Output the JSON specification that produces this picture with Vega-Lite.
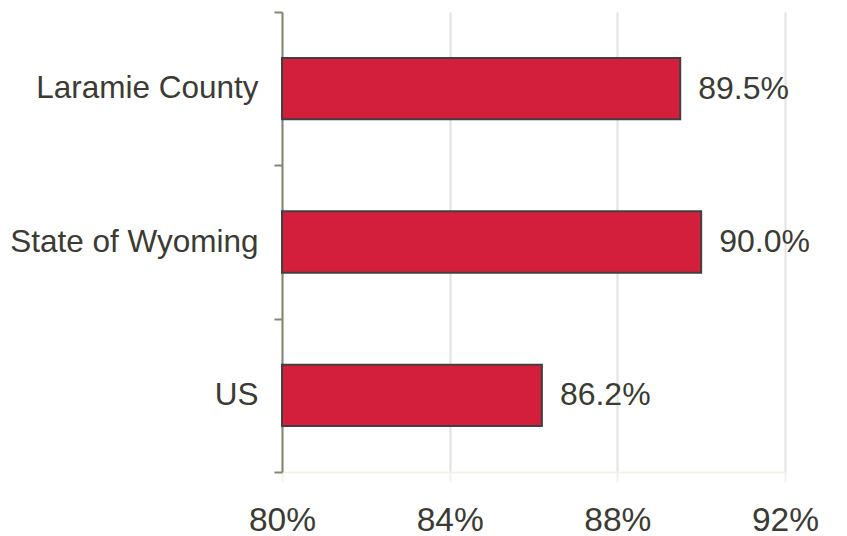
{
  "$schema": "https://vega.github.io/schema/vega-lite/v6.json",
  "width": 503,
  "height": 460,
  "autosize": {"type": "none"},
  "padding": {"left": 282, "top": 12, "right": 62, "bottom": 64},
  "background": "white",
  "config": {"view": {"stroke": null}, "font": "Liberation Sans"},
  "data": {"values": [
    {"area": "Laramie County", "value": 89.5},
    {"area": "State of Wyoming", "value": 90.0},
    {"area": "US", "value": 86.2}
  ]},
  "encoding": {
    "y": {
      "field": "area", "type": "nominal", "sort": null,
      "scale": {"paddingInner": 0, "paddingOuter": 0},
      "axis": {
        "title": null, "tickBand": "extent", "domainColor": "#858573", "domainWidth": 2,
        "tickColor": "#858573", "tickWidth": 2, "tickSize": 8, "labelPadding": 16,
        "labelFontSize": 31.5, "labelColor": "#3b3b33", "labelFont": "Liberation Sans", "grid": false,
        "labelLimit": 400
      }
    },
    "x": {
      "field": "value", "type": "quantitative",
      "scale": {"domain": [80, 92], "nice": false, "zero": false},
      "axis": {
        "title": null, "values": [80, 84, 88, 92], "labelExpr": "datum.value + '%'",
        "labelFontSize": 33.5, "labelColor": "#3b3b33", "labelPadding": 48, "labelBaseline": "alphabetic",
        "domainColor": "#f3f3ec", "domainWidth": 2, "tickColor": "#f3f3ec", "tickWidth": 2, "tickSize": 10,
        "grid": true, "gridColor": "#e2e2e2", "gridWidth": 2, "labelFlush": false
      }
    }
  },
  "layer": [
    {"mark": {"type": "bar", "color": "#d31f3c", "stroke": "#404040", "strokeWidth": 2, "height": {"band": 0.4}},
     "encoding": {"x2": {"datum": 80}}},
    {"mark": {"type": "text", "align": "left", "baseline": "middle", "dx": 18, "fontSize": 32, "color": "#3b3b33", "font": "Liberation Sans",
              "text": {"expr": "format(datum.value, '.1f') + '%'"}}}
  ]
}
